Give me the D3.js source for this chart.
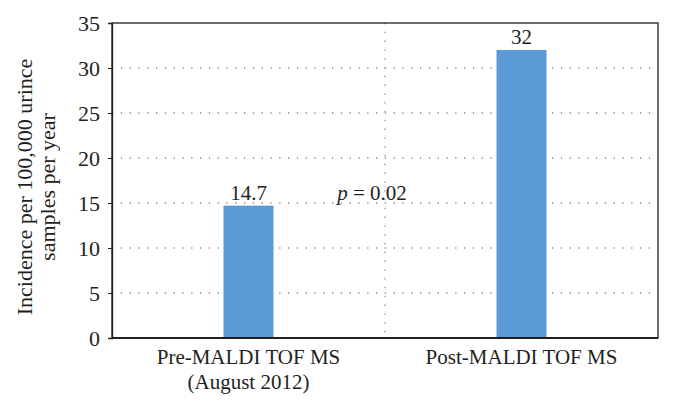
<!DOCTYPE html>
<html>
<head>
<meta charset="utf-8">
<script src="https://cdn.jsdelivr.net/npm/d3@7"></script>
<style>
	body { margin: 0; background: #fff; }
	text { font-family: "Liberation Serif", "DejaVu Serif", serif; fill: #231f20; }
</style>
</head>
<body>
<svg id="chart"></svg>
<script>
// Chart data
const categories = ["Pre-MALDI TOF MS\n(August 2012)", "Post-MALDI TOF MS"];
const values = [14.7, 32];
const valueLabels = ["14.7", "32"];
const yTicks = [0, 5, 10, 15, 20, 25, 30, 35];

const width = 674;
const height = 406;
const margin = { top: 23, right: 16, bottom: 68, left: 112 };
const fontSize = "21px";

const svg = d3.select("#chart").attr("width", width).attr("height", height);

// Scales
const x = d3.scaleBand()
	.domain(categories)
	.range([margin.left, width - margin.right])
	.paddingInner(0)
	.paddingOuter(0);

const y = d3.scaleLinear().domain([0, 35]).range([height - margin.bottom, margin.top]);

const barWidth = 50;

// Dotted gridlines
svg.append("g")
	.selectAll("line")
	.data(yTicks.filter((d) => d > 0 && d < 35))
	.enter()
	.append("line")
	.attr("x1", margin.left)
	.attr("x2", width - margin.right)
	.attr("y1", (d) => y(d))
	.attr("y2", (d) => y(d))
	.attr("stroke", "#8a8a8a")
	.attr("stroke-width", 1.3)
	.attr("stroke-dasharray", "1.3,7.5");

// Dotted separator between the categories
svg.append("line")
	.attr("x1", x(categories[1]))
	.attr("x2", x(categories[1]))
	.attr("y1", y(35))
	.attr("y2", y(0))
	.attr("stroke", "#8a8a8a")
	.attr("stroke-width", 1.3)
	.attr("stroke-dasharray", "1.3,7.5");

// Bars
svg.append("g")
	.selectAll("rect")
	.data(values)
	.enter()
	.append("rect")
	.attr("x", (d, i) => x(categories[i]) + x.bandwidth() / 2 - barWidth / 2)
	.attr("y", (d) => y(d))
	.attr("width", barWidth)
	.attr("height", (d) => y(0) - y(d))
	.attr("fill", "#5b9bd5");

// Value labels
svg.append("g")
	.selectAll("text")
	.data(values)
	.enter()
	.append("text")
	.attr("x", (d, i) => x(categories[i]) + x.bandwidth() / 2)
	.attr("y", (d) => y(d) - 6)
	.attr("text-anchor", "middle")
	.attr("font-size", fontSize)
	.text((d, i) => valueLabels[i]);

// p value annotation
const pText = svg.append("text")
	.attr("x", x(categories[1]) - 13)
	.attr("y", y(14.7) - 6)
	.attr("text-anchor", "middle")
	.attr("font-size", fontSize);
pText.append("tspan").attr("font-style", "italic").text("p");
pText.append("tspan").text(" = 0.02");

// Plot frame
svg.append("rect")
	.attr("x", margin.left)
	.attr("y", margin.top)
	.attr("width", width - margin.left - margin.right)
	.attr("height", height - margin.top - margin.bottom)
	.attr("fill", "none")
	.attr("stroke", "#231f20")
	.attr("stroke-width", 1.3);

// Y axis
const yAxis = svg.append("g")
	.attr("transform", `translate(${margin.left},0)`)
	.call(d3.axisLeft(y).tickValues(yTicks).tickSize(4).tickPadding(8));
yAxis.select(".domain").attr("stroke", "#231f20").attr("stroke-width", 1.3);
yAxis.selectAll(".tick line").attr("stroke", "#231f20");
yAxis.selectAll(".tick text")
	.attr("font-size", "22px")
	.attr("font-family", "Liberation Serif, serif")
	.attr("fill", "#231f20");

// Bottom axis line (slightly heavier)
svg.append("line")
	.attr("x1", margin.left)
	.attr("x2", width - margin.right)
	.attr("y1", y(0))
	.attr("y2", y(0))
	.attr("stroke", "#231f20")
	.attr("stroke-width", 2);

// Category labels
svg.append("g")
	.selectAll("text")
	.data(categories)
	.enter()
	.append("text")
	.attr("x", (d) => x(d) + x.bandwidth() / 2)
	.attr("y", y(0) + 26)
	.attr("text-anchor", "middle")
	.attr("font-size", fontSize)
	.each(function (d) {
		d.split("\n").forEach((line, i) => {
			d3.select(this)
				.append("tspan")
				.attr("x", x(d) + x.bandwidth() / 2)
				.attr("dy", i === 0 ? 0 : 25)
				.text(line);
		});
	});

// Y axis title
const yTitle = svg.append("text")
	.attr("transform", "translate(32, 187) rotate(-90)")
	.attr("text-anchor", "middle")
	.attr("font-size", "22px");
yTitle.append("tspan").attr("x", 0).attr("dy", 0).text("Incidence per 100,000 urince");
yTitle.append("tspan").attr("x", 0).attr("dy", 23).text("samples per year");
</script>
</body>
</html>
